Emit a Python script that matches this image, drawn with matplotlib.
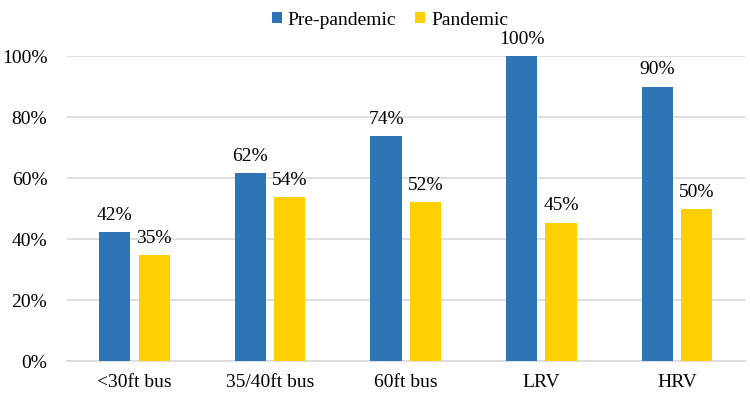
import numpy as np
import matplotlib.pyplot as plt
from matplotlib.ticker import PercentFormatter

plt.rcParams['font.family'] = ['Liberation Serif', 'DejaVu Serif']

categories = ['<30ft bus', '35/40ft bus', '60ft bus', 'LRV', 'HRV']
pre_pandemic = [42.3, 61.6, 73.8, 100.0, 90.0]
pandemic = [34.8, 53.8, 52.2, 45.4, 49.9]
pre_labels = ['42%', '62%', '74%', '100%', '90%']
pan_labels = ['35%', '54%', '52%', '45%', '50%']

blue = '#2E75B6'
yellow = '#FFD000'

fig = plt.figure(figsize=(7.5, 3.95), dpi=100)
ax = fig.add_axes([0.089, 0.086, 0.904, 0.772])

x = np.arange(len(categories))
w = 0.23
gap = 0.06
b1 = ax.bar(x - (w + gap) / 2, pre_pandemic, w, color=blue, label='Pre-pandemic', zorder=3)
b2 = ax.bar(x + (w + gap) / 2, pandemic, w, color=yellow, label='Pandemic', zorder=3)
ax.bar_label(b1, labels=pre_labels, padding=6, fontsize=14)
ax.bar_label(b2, labels=pan_labels, padding=6, fontsize=14)

ax.set_xlim(-0.5, len(categories) - 0.5)
ax.set_ylim(0, 100)
ax.set_yticks(np.arange(0, 101, 20))
ax.yaxis.set_major_formatter(PercentFormatter(decimals=0))
ax.set_xticks(x)
ax.set_xticklabels(categories)
ax.tick_params(axis='both', length=0, labelsize=14)
ax.tick_params(axis='x', pad=9)
ax.tick_params(axis='y', pad=14)
ax.grid(axis='y', color='#D9D9D9', linewidth=1.2, zorder=0)
for s in ['top', 'right', 'left']:
    ax.spines[s].set_visible(False)
ax.spines['bottom'].set_color('#D9D9D9')
ax.spines['bottom'].set_linewidth(1.2)
ax.set_axisbelow(True)

fig.legend(loc='upper center', bbox_to_anchor=(0.52, 1.015), ncol=2, frameon=False,
           fontsize=14, handlelength=0.5, handleheight=0.5, handletextpad=0.3,
           columnspacing=1.0)

fig.savefig('out.png')
